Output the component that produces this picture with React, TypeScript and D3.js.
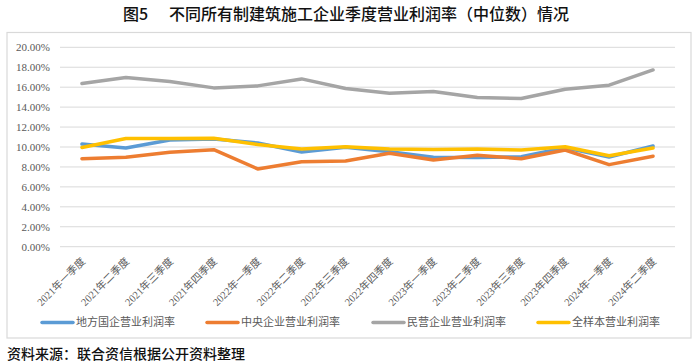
import React from 'react';
import * as d3 from 'd3';

// quarters on the x axis
const quarters = [
  '2021年一季度', '2021年二季度', '2021年三季度', '2021年四季度',
  '2022年一季度', '2022年二季度', '2022年三季度', '2022年四季度',
  '2023年一季度', '2023年二季度', '2023年三季度', '2023年四季度',
  '2024年一季度', '2024年二季度',
];

// operating profit margin, median, %
const localSoe = [10.3, 9.9, 10.7, 10.8, 10.4, 9.5, 9.98, 9.53, 8.97, 8.95, 9.03, 9.93, 9.0, 10.1];
const centralSoe = [8.83, 8.97, 9.47, 9.73, 7.8, 8.53, 8.6, 9.37, 8.7, 9.17, 8.83, 9.7, 8.23, 9.08];
const privateEnt = [16.37, 16.97, 16.57, 15.93, 16.13, 16.83, 15.87, 15.4, 15.57, 14.97, 14.87, 15.8, 16.2, 17.73];
const allSample = [9.95, 10.85, 10.85, 10.87, 10.25, 9.8, 10.02, 9.8, 9.75, 9.8, 9.7, 10.03, 9.13, 9.9];

const yTicks = [0, 2, 4, 6, 8, 10, 12, 14, 16, 18, 20];

const series = [
  { name: '地方国企营业利润率', values: localSoe, color: '#5B9BD5' },
  { name: '中央企业营业利润率', values: centralSoe, color: '#ED7D31' },
  { name: '民营企业营业利润率', values: privateEnt, color: '#A5A5A5' },
  { name: '全样本营业利润率', values: allSample, color: '#FFC000' },
];

const W = 700;
const H = 363;
const cjk = '"Liberation Serif", "Noto Sans CJK SC", serif';

const App = () => {
  const x = d3.scalePoint<string>().domain(quarters).range([60, 675]).padding(0.5);
  const y = d3.scaleLinear().domain([0, 20]).range([246.7, 47.3]);

  const line = d3
    .line<number>()
    .x((_, i) => x(quarters[i]) as number)
    .y((d) => y(d));

  // legend positions
  const legendX = [42, 207, 373, 538];

  return (
    <div style={{ position: 'absolute', left: 0, top: 0 }}>
      <svg width={W} height={H} style={{ display: 'block', background: '#fff' }}>
        {/* title */}
        <text x={123} y={20} fontSize={16} fontFamily='"Noto Sans CJK SC", sans-serif' fontWeight={500} fill='#111'>
          图5
          <tspan x={169}>不同所有制建筑施工企业季度营业利润率（中位数）情况</tspan>
        </text>

        {/* chart frame */}
        <rect x={7} y={32.5} width={684} height={305.5} fill='#fff' stroke='#D9D9D9' strokeWidth={1.2} />

        {/* gridlines + y labels */}
        {yTicks.map((t) => (
          <g key={t}>
            <line x1={60} x2={675} y1={y(t)} y2={y(t)} stroke='#D9D9D9' strokeWidth={1} />
            <text x={50} y={y(t)} dy='0.35em' textAnchor='end' fontSize={11} fontFamily='"Liberation Serif", serif' fill='#595959'>
              {t.toFixed(2)}%
            </text>
          </g>
        ))}

        {/* x labels */}
        {quarters.map((q) => {
          const cx = (x(q) as number) + 4;
          const cy = 262;
          return (
            <text key={q} x={cx} y={cy} transform={`rotate(-45, ${cx}, ${cy})`} textAnchor='end' fontSize={10.5} fontFamily={cjk} fill='#595959'>
              {q}
            </text>
          );
        })}

        {/* lines */}
        {series.map((s) => (
          <path key={s.name} d={line(s.values) || ''} fill='none' stroke={s.color} strokeWidth={3.5} strokeLinejoin='round' strokeLinecap='round' />
        ))}

        {/* legend */}
        {series.map((s, i) => (
          <g key={s.name}>
            <line x1={legendX[i]} x2={legendX[i] + 31} y1={322.5} y2={322.5} stroke={s.color} strokeWidth={3.5} strokeLinecap='round' />
            <text x={legendX[i] + 34} y={322.5} dy='0.35em' fontSize={11} fontFamily={cjk} fill='#595959'>
              {s.name}
            </text>
          </g>
        ))}

        {/* source */}
        <text x={7} y={354} dy='0.35em' fontSize={14} fontFamily='"Noto Sans CJK SC", serif' fontWeight={500} fill='#111'>
          资料来源：联合资信根据公开资料整理
        </text>
      </svg>
    </div>
  );
};

export default App;
